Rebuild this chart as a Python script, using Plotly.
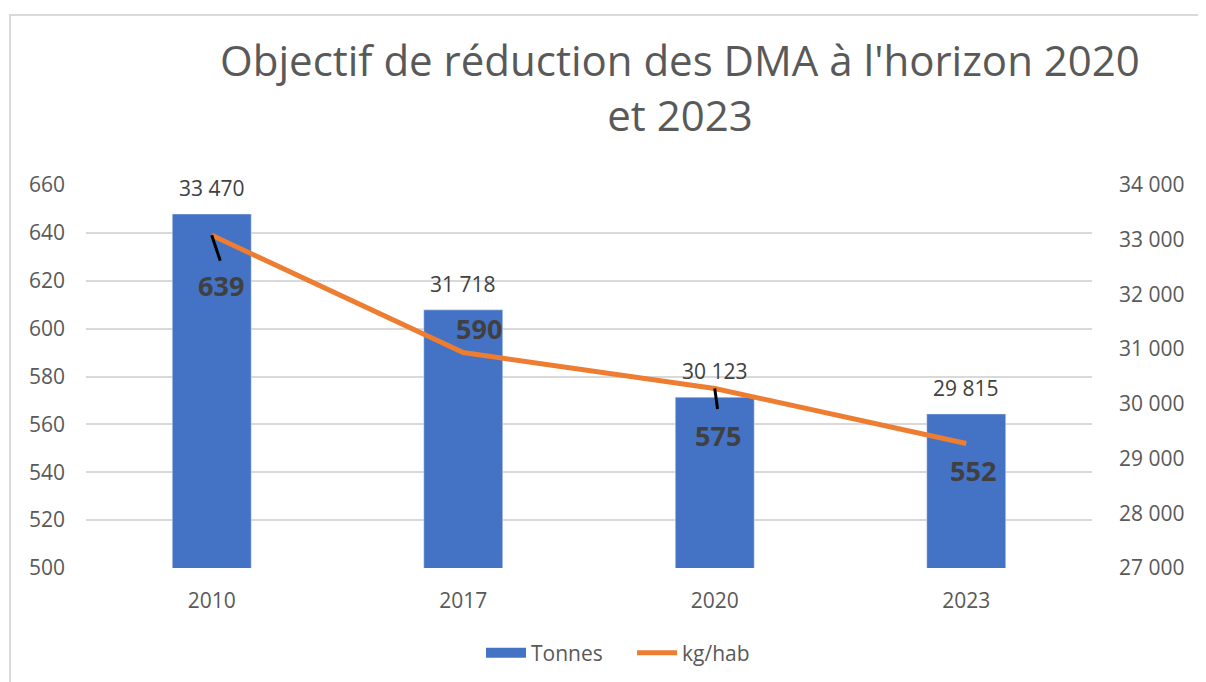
import plotly.graph_objects as go

years = ["2010", "2017", "2020", "2023"]
tonnes = [33470, 31718, 30123, 29815]
kg_hab = [639, 590, 575, 552]

# label placement (pixels) for the kg/hab data labels
lab_dx = [9, 16, 3, 7]
lab_dy = [-50, 24, -47, -27]
# leader lines (pixels); None = no leader
lead = [(9, 27), None, (3, 22), None]

BLUE = "#4472C4"
ORANGE = "#ED7D31"
GRID = "#D9D9D9"
TXT = "#595959"
DARK = "#404040"
FONT = "Open Sans"

fig = go.Figure()
fig.add_trace(go.Bar(x=years, y=tonnes, name="Tonnes", marker_color=BLUE,
                     yaxis="y", showlegend=False))
fig.add_trace(go.Scatter(x=years[:1], y=[None], name="Tonnes", mode="lines",
                         line=dict(color=BLUE, width=13), yaxis="y",
                         hoverinfo="skip"))
fig.add_trace(go.Scatter(x=years, y=kg_hab, name="kg/hab", mode="lines",
                         line=dict(color=ORANGE, width=5), yaxis="y2"))

ann = []
for i, t in enumerate(tonnes):
    ann.append(dict(x=i, y=t, xref="x", yref="y", text=f"{t:,}".replace(",", " "),
                    showarrow=False, yanchor="bottom", yshift=10,
                    font=dict(family=FONT, size=21, color=DARK)))
for i, (v, dx, dy, ld) in enumerate(zip(kg_hab, lab_dx, lab_dy, lead)):
    ann.append(dict(x=i, y=v, xref="x", yref="y2", text=f"<b>{v}</b>",
                    showarrow=False, xshift=dx, yshift=dy,
                    font=dict(family=FONT, size=27, color=DARK)))
    if ld is not None:
        ann.append(dict(x=i, y=v, xref="x", yref="y2", text="", showarrow=True,
                        ax=ld[0], ay=ld[1], arrowhead=0, arrowwidth=3,
                        arrowcolor="black", standoff=0, startstandoff=0,
                        font=dict(size=1)))

W, H = 1206, 682
OFF = 8  # page body margin
L, R, T, B = 86 - OFF, 114 + OFF, 185 - OFF, 114 + OFF
pw, ph = W - L - R, H - T - B

fig.update_layout(
    width=W, height=H,
    margin=dict(l=L, r=R, t=T, b=B),
    paper_bgcolor="white", plot_bgcolor="white",
    separators=", ",
    font=dict(family=FONT, size=21, color=TXT),
    title=dict(text="Objectif de réduction des DMA à l'horizon 2020<br>et 2023",
               x=(680 - 86) / pw, xref="paper", xanchor="center",
               y=1 - 68 / H, yref="container", yanchor="top",
               font=dict(family=FONT, size=42, color=TXT)),
    bargap=0.686,
    xaxis=dict(type="category", categoryorder="array", categoryarray=years,
               range=[-0.5, len(years) - 0.5],
               showgrid=False, showline=False, zeroline=False,
               ticks="", ticklabelstandoff=18,
               tickfont=dict(family=FONT, size=21, color=TXT)),
    yaxis=dict(side="right", range=[27000, 34000], dtick=1000, tickformat=",d",
               showgrid=False, zeroline=False, showline=False, ticks="",
               ticklabelstandoff=26,
               tickfont=dict(family=FONT, size=21, color=TXT)),
    yaxis2=dict(side="left", overlaying="y", range=[500, 660], dtick=20,
                showgrid=True, gridcolor=GRID, gridwidth=2, zeroline=False,
                showline=False, ticks="", ticklabelstandoff=20,
                tickfont=dict(family=FONT, size=21, color=TXT)),
    legend=dict(orientation="h", x=(632 - 86) / pw, xanchor="center",
                y=(568 - 653) / ph, yanchor="middle",
                font=dict(family=FONT, size=21, color=TXT), itemwidth=40,
                entrywidth=96),
    annotations=ann,
    shapes=[dict(type="rect", xref="paper", yref="paper",
                 x0=(10 - 86) / pw, x1=1.3, y0=-0.5, y1=(568 - 15) / ph,
                 line=dict(color=GRID, width=2), layer="below")],
)

fig.write_html("out.html")
